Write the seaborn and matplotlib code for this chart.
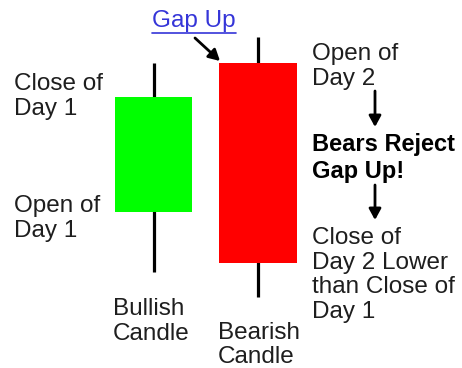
import matplotlib
matplotlib.use('Agg')

import matplotlib.pyplot as plt
import seaborn as sns
from matplotlib.lines import Line2D

# candle data (arbitrary price units)
days = ["Day 1", "Day 2"]
opens = [9.8, 24.7]
closes = [21.3, 4.7]
highs = [24.7, 27.3]
lows = [3.8, 1.3]
colors = ["#00FF00", "#FF0000"]

sns.set_theme(style="white")
plt.rcParams['font.family'] = ['Liberation Sans', 'DejaVu Sans']

W, H = 462, 368
fig = plt.figure(figsize=(W / 100, H / 100), dpi=100)
ax = fig.add_axes([0, 0, 1, 1])

# wicks
ax.vlines(range(len(days)), lows, highs, color="black", lw=2.3, zorder=0.5)

# bodies
heights = [abs(c - o) for o, c in zip(opens, closes)]
bottoms = [min(o, c) for o, c in zip(opens, closes)]
sns.barplot(x=days, y=heights, hue=days, palette=colors, width=0.74,
            saturation=1, legend=False, ax=ax, zorder=1)
for p in ax.patches:
    i = int(round(p.get_x() + p.get_width() / 2))
    p.set_y(bottoms[i])
    p.set_edgecolor("none")

ax.set_xlim(-1.469, 2.952)
ax.set_ylim(-5.8, 31.0)
ax.axis("off")


def px(x, y):
    return x / W, 1 - y / H


txt = "#1e1e1e"
fs = 17.5
ls = 1.2
fig.text(*px(14, 73), "Close of\nDay 1", fontsize=fs, color=txt, va="top", linespacing=ls)
fig.text(*px(14, 195), "Open of\nDay 1", fontsize=fs, color=txt, va="top", linespacing=ls)
fig.text(*px(312, 43), "Open of\nDay 2", fontsize=fs, color=txt, va="top", linespacing=ls)
fig.text(*px(312, 133), "Bears Reject\nGap Up!", fontsize=fs - 0.5, color="black",
         weight="bold", va="top", linespacing=ls)
fig.text(*px(312, 227), "Close of\nDay 2 Lower\nthan Close of\nDay 1", fontsize=fs,
         color=txt, va="top", linespacing=1.16)
fig.text(*px(113, 298), "Bullish\nCandle", fontsize=fs, color=txt, va="top", linespacing=ls)
fig.text(*px(218, 322), "Bearish\nCandle", fontsize=fs, color=txt, va="top", linespacing=1.12)
gap = fig.text(*px(152, 10), "Gap Up", fontsize=fs, color="#3535d8", va="top")

# arrows
arrow = dict(arrowstyle="-|>,head_length=0.55,head_width=0.3", color="black", lw=2,
             shrinkA=0, shrinkB=0)
ax.annotate("", xy=px(220, 61), xytext=px(195, 38), xycoords="figure fraction",
            textcoords="figure fraction", arrowprops=arrow)
ax.annotate("", xy=px(375, 127), xytext=px(375, 91), xycoords="figure fraction",
            textcoords="figure fraction", arrowprops=arrow)
ax.annotate("", xy=px(375, 220), xytext=px(375, 185), xycoords="figure fraction",
            textcoords="figure fraction", arrowprops=arrow)

# underline for "Gap Up"
fig.canvas.draw()
bb = gap.get_window_extent()
fig.add_artist(Line2D([bb.x0, bb.x1], [bb.y0 - 1, bb.y0 - 1], transform=None,
                      color="#3535d8", lw=1.2))

plt.savefig("out.png", dpi=100)
